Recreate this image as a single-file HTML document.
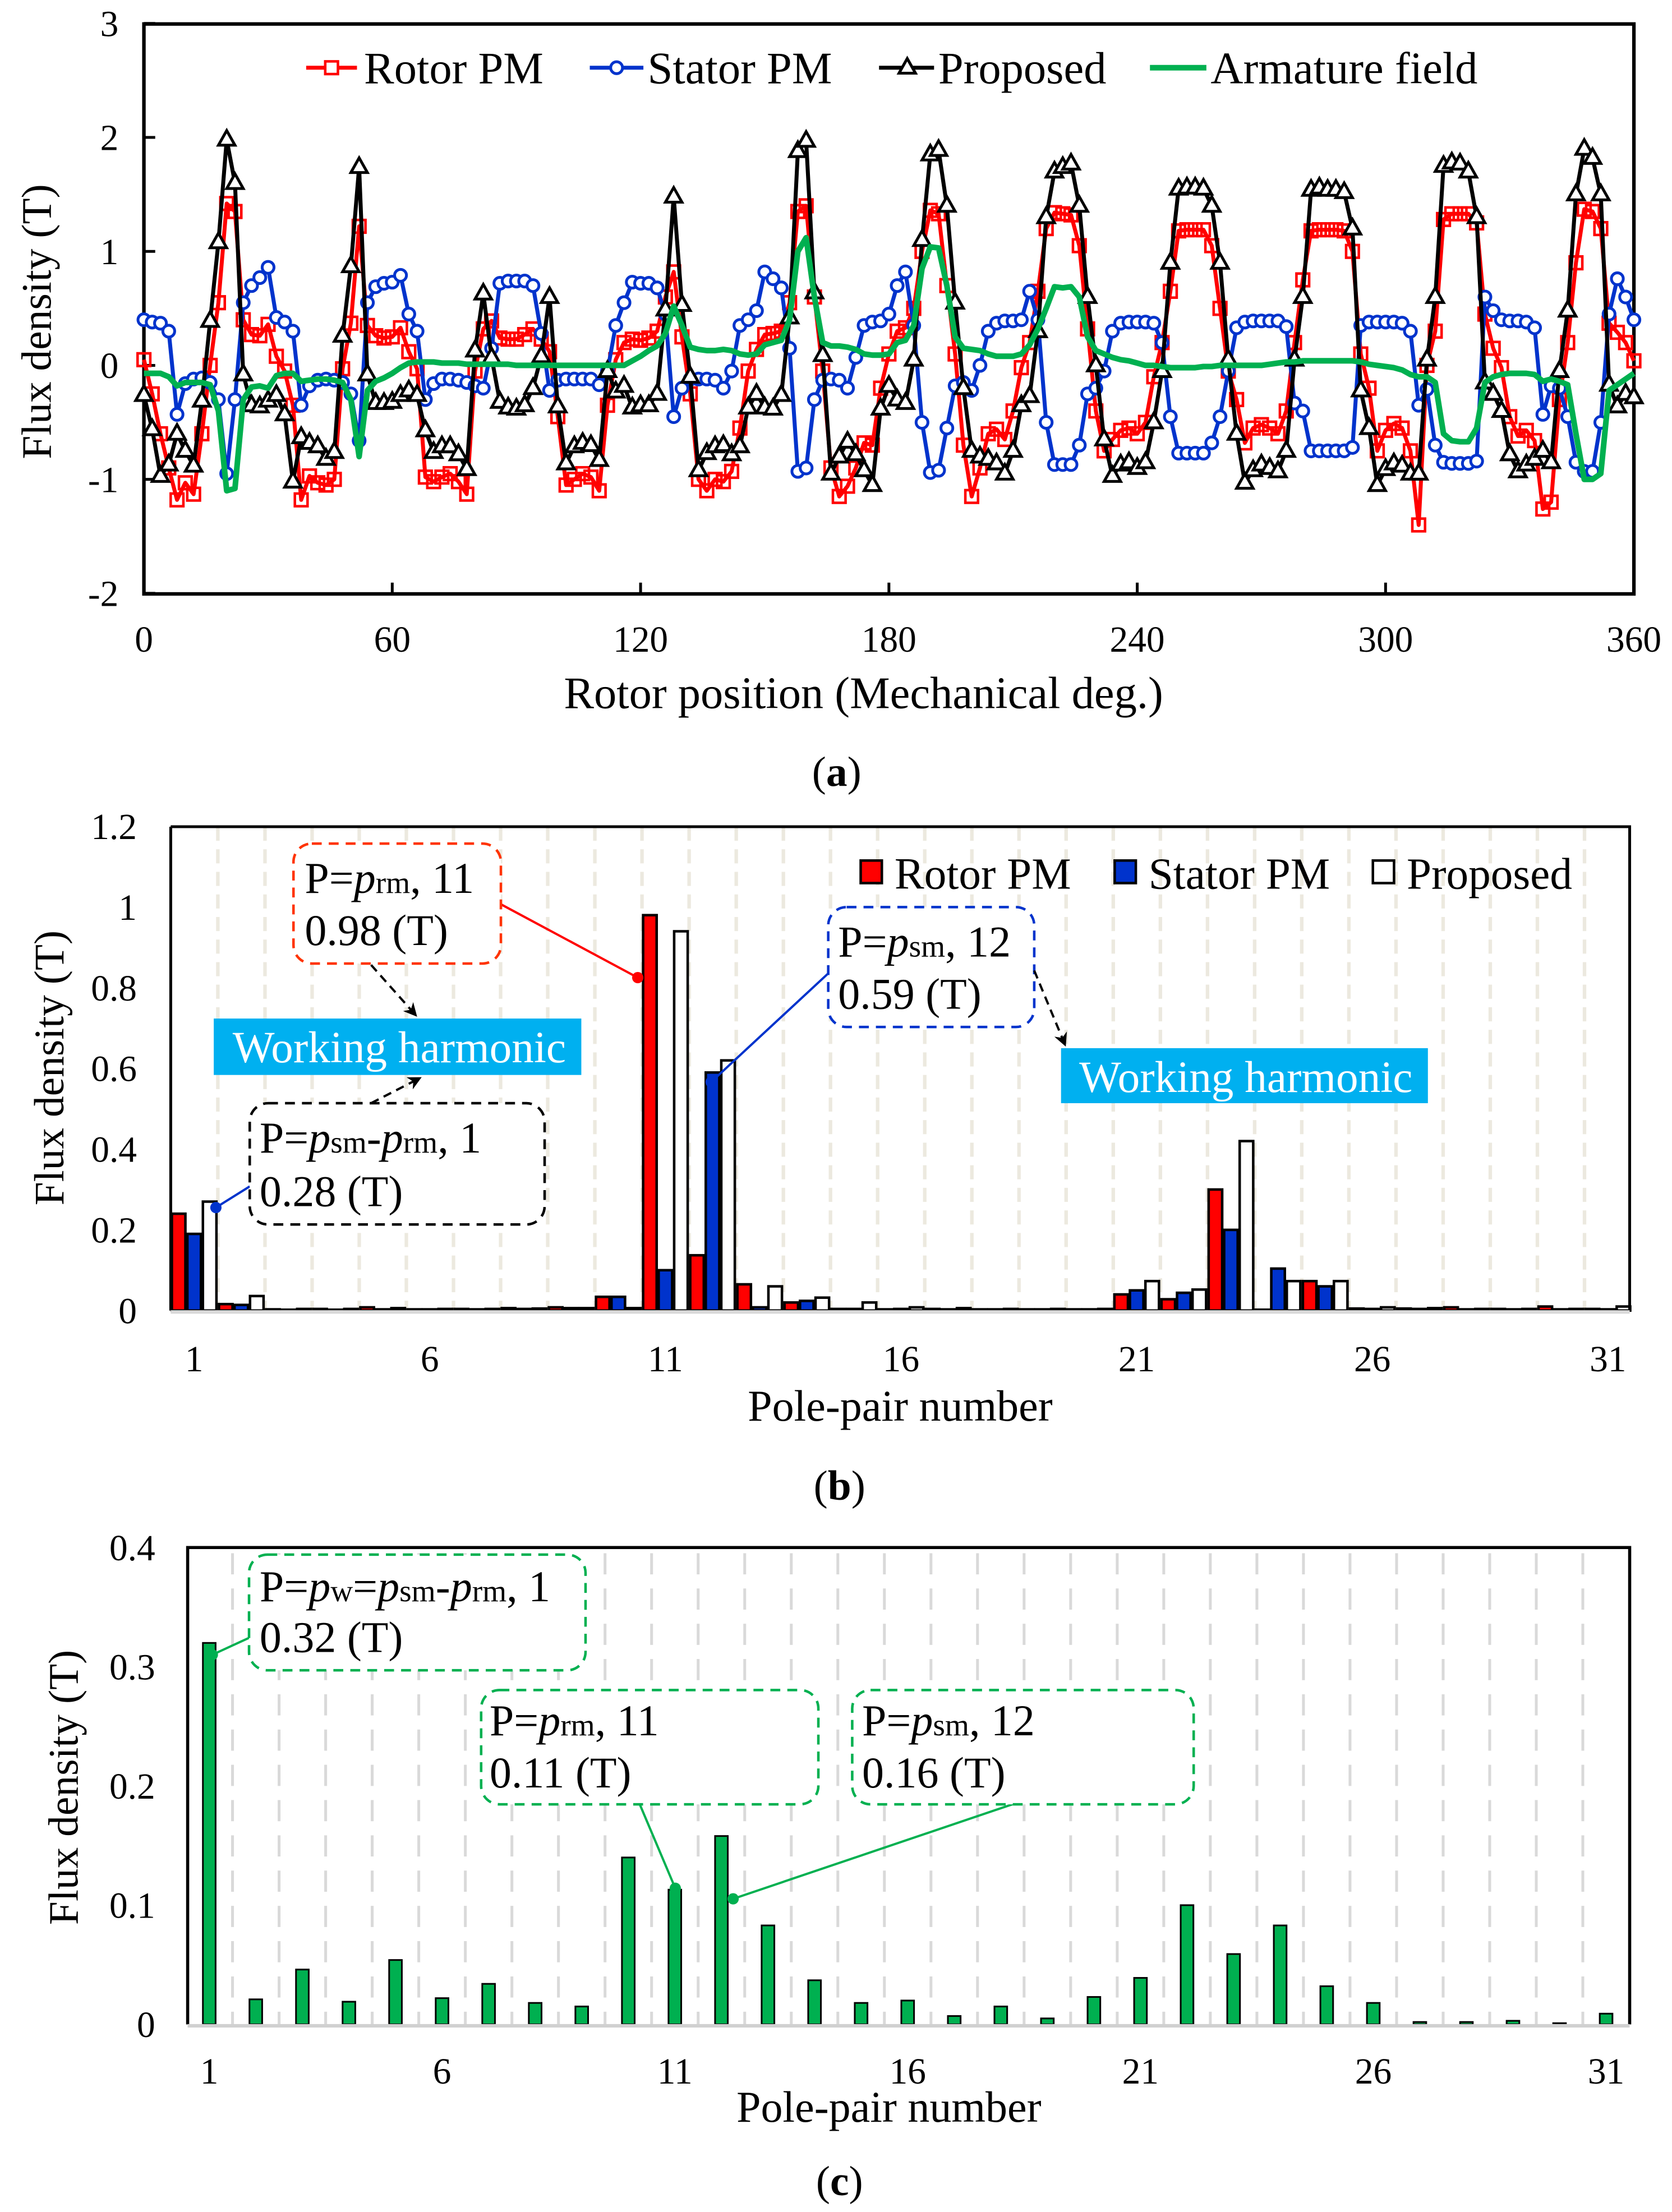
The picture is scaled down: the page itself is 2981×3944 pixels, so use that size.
<!DOCTYPE html>
<html><head><meta charset="utf-8"><style>
html,body{margin:0;padding:0;background:#fff;}
svg{display:block;}
text{font-family:"Liberation Serif","Times New Roman",serif;fill:#000;}
</style></head><body>
<svg id="fig" xmlns="http://www.w3.org/2000/svg" width="2981" height="3944" viewBox="0 0 1185 1568" preserveAspectRatio="none">
<rect x="0" y="0" width="1185" height="1568" fill="#fff"/>
<g id="pa"></g>
<g id="pb"></g>
<g id="pc"></g>
</svg>
<script>
// ---------- Panel (a) data: sampled every 2 mechanical degrees, 0..360 ----------
const degStep = 2;
const rotorPM = [0.05,-0.25,-0.6,-0.9,-1.18,-1.03,-1.13,-0.6,0.0,0.55,1.42,1.35,0.4,0.27,0.26,0.36,0.08,-0.05,-0.35,-1.18,-0.97,-1.03,-1.05,-1.0,-0.03,0.37,1.22,0.35,0.26,0.24,0.25,0.33,0.12,-0.03,-0.98,-1.02,-0.98,-0.95,-1.02,-1.13,-0.05,0.32,0.39,0.24,0.23,0.23,
0.27,0.32,0.23,0.12,-0.45,-1.05,-1.0,-0.95,-0.98,-1.1,-0.35,0.05,0.2,0.23,0.22,0.24,0.3,0.6,0.82,0.25,-0.25,-1.0,-1.1,-1.0,-1.02,-0.93,-0.55,-0.05,0.14,0.27,0.28,0.3,0.55,1.35,1.4,0.6,-0.05,-0.9,-1.15,-1.06,-0.9,-0.68,-0.7,-0.2,0.1,
0.3,0.33,0.5,1.0,1.36,1.33,0.7,0.1,-0.7,-1.15,-0.9,-0.6,-0.56,-0.65,-0.4,-0.02,0.2,0.65,1.2,1.34,1.33,1.32,1.05,0.32,-0.4,-0.75,-0.65,-0.57,-0.55,-0.6,-0.5,-0.1,0.2,0.65,1.18,1.19,1.19,1.19,1.05,0.5,-0.05,-0.3,-0.68,-0.55,
-0.52,-0.55,-0.6,-0.4,0.2,0.75,1.18,1.19,1.19,1.19,1.18,1.0,0.1,-0.2,-0.75,-0.57,-0.51,-0.55,-0.75,-1.4,0.0,0.3,1.28,1.33,1.33,1.33,1.25,0.45,0.15,-0.02,-0.45,-0.62,-0.57,-0.66,-1.26,-1.2,-0.3,0.2,0.9,1.37,1.35,1.2,0.37,0.29,0.2,0.04];
const statorPM = [0.4,0.38,0.37,0.3,-0.43,-0.16,-0.12,-0.11,-0.15,-0.3,-0.95,-0.3,0.55,0.7,0.77,0.86,0.42,0.38,0.3,-0.35,-0.18,-0.13,-0.12,-0.13,-0.15,-0.25,-0.66,0.55,0.69,0.72,0.73,0.79,0.45,0.3,-0.3,-0.16,-0.12,-0.12,-0.13,-0.15,-0.18,-0.2,0.15,0.72,0.74,0.74,
0.74,0.7,0.28,-0.22,-0.13,-0.12,-0.12,-0.12,-0.12,-0.17,-0.05,0.35,0.55,0.73,0.72,0.72,0.68,0.45,-0.45,-0.2,-0.12,-0.12,-0.12,-0.13,-0.2,-0.05,0.35,0.4,0.48,0.82,0.76,0.68,0.15,-0.93,-0.9,-0.3,-0.13,-0.12,-0.13,-0.2,0.07,0.35,0.38,0.39,0.45,
0.7,0.82,0.35,-0.5,-0.94,-0.92,-0.55,-0.18,-0.15,-0.22,0.0,0.3,0.37,0.39,0.39,0.4,0.65,0.4,-0.5,-0.87,-0.87,-0.87,-0.7,-0.25,-0.2,-0.05,0.3,0.37,0.38,0.38,0.38,0.37,0.2,-0.45,-0.77,-0.77,-0.77,-0.77,-0.68,-0.45,-0.05,0.33,0.38,0.39,
0.39,0.39,0.39,0.34,-0.33,-0.4,-0.75,-0.75,-0.75,-0.75,-0.75,-0.72,0.35,0.38,0.38,0.38,0.38,0.37,0.3,-0.35,-0.21,-0.7,-0.85,-0.86,-0.86,-0.86,-0.84,0.6,0.48,0.4,0.39,0.39,0.38,0.33,-0.43,-0.18,-0.2,-0.45,-0.85,-0.93,-0.93,-0.5,0.45,0.76,0.6,0.4];
const proposed = [-0.26,-0.56,-0.97,-0.87,-0.6,-0.75,-0.88,-0.31,0.39,1.08,1.98,1.6,-0.08,-0.35,-0.36,-0.31,-0.26,-0.43,-1.02,-0.63,-0.68,-0.71,-0.82,-0.76,0.26,0.87,1.74,-0.08,-0.33,-0.33,-0.32,-0.26,-0.22,-0.26,-0.57,-0.76,-0.71,-0.71,-0.78,-0.91,0.13,0.63,0.07,-0.32,-0.37,-0.38,
-0.35,-0.2,0.08,0.6,-0.36,-0.86,-0.71,-0.68,-0.7,-0.83,-0.05,-0.23,-0.18,-0.37,-0.35,-0.35,-0.25,0.49,1.48,0.53,-0.1,-0.92,-0.77,-0.71,-0.7,-0.78,-0.71,-0.37,-0.25,-0.37,-0.38,-0.26,0.42,1.88,1.97,0.64,0.09,-0.95,-0.8,-0.67,-0.78,-0.92,-1.05,-0.38,-0.18,
-0.3,-0.33,0.05,1.1,1.85,1.89,1.4,0.55,-0.2,-0.75,-0.8,-0.82,-0.86,-0.95,-0.75,-0.35,-0.27,0.3,1.3,1.7,1.74,1.77,1.4,0.6,0,-0.65,-0.97,-0.87,-0.85,-0.9,-0.85,-0.5,-0.05,0.9,1.55,1.56,1.56,1.55,1.4,0.9,0.05,-0.6,-1.03,-0.92,
-0.87,-0.9,-0.93,-0.75,0.05,0.6,1.54,1.56,1.54,1.54,1.52,1.2,-0.22,-0.55,-1.05,-0.91,-0.86,-0.88,-0.95,-0.95,0.05,0.6,1.75,1.78,1.77,1.7,1.3,-0.15,-0.25,-0.4,-0.78,-0.93,-0.87,-0.82,-0.75,-0.85,-0.05,0.48,1.5,1.9,1.82,1.5,-0.17,-0.36,-0.25,-0.28];
const armature = [-0.07,-0.07,-0.07,-0.1,-0.18,-0.15,-0.15,-0.15,-0.17,-0.4,-1.1,-1.08,-0.3,-0.19,-0.18,-0.2,-0.09,-0.07,-0.07,-0.14,-0.13,-0.12,-0.12,-0.13,-0.15,-0.3,-0.8,-0.22,-0.14,-0.11,-0.07,-0.02,0.02,0.03,0.03,0.03,0.02,0.02,0.02,0.01,0.01,0.01,0.01,0.01,0.01,0.0,
0,0,0,0,0,0,0,0,0,0,0,0,0,0.04,0.08,0.13,0.17,0.28,0.52,0.35,0.16,0.14,0.13,0.13,0.14,0.13,0.1,0.09,0.1,0.18,0.2,0.22,0.4,1.0,1.12,0.6,0.2,0.17,0.17,0.16,0.14,0.1,0.09,0.09,0.1,
0.2,0.22,0.35,0.85,1.04,1.03,0.7,0.25,0.15,0.14,0.13,0.1,0.08,0.08,0.08,0.1,0.18,0.32,0.5,0.69,0.68,0.69,0.6,0.25,0.13,0.1,0.07,0.05,0.04,0.02,0.0,0.0,-0.01,-0.02,-0.02,-0.02,-0.02,-0.01,-0.01,0.0,0.0,0.0,0.0,0.0,
0.0,0.01,0.02,0.03,0.03,0.04,0.04,0.04,0.04,0.04,0.04,0.04,0.03,0.01,0.0,-0.01,-0.02,-0.04,-0.08,-0.1,-0.1,-0.15,-0.6,-0.66,-0.67,-0.67,-0.55,-0.15,-0.1,-0.08,-0.07,-0.07,-0.07,-0.08,-0.14,-0.12,-0.14,-0.17,-0.6,-1.0,-1.0,-0.95,-0.22,-0.17,-0.12,-0.07];
const aYTicks = [3,2,1,0,-1,-2];
const aXTicks = [0,60,120,180,240,300,360];

// ---------- Panel (b) data: harmonic amplitudes, pole-pair 1..31 ----------
const bRotor = [0.24,0.016,0.003,0.004,0.008,0.003,0.004,0.006,0.008,0.034,0.98,0.137,0.065,0.02,0.004,0.003,0.004,0.003,0.003,0.003,0.04,0.028,0.30,0.0,0.073,0.005,0.005,0.008,0.004,0.01,0.004];
const bStator = [0.19,0.014,0.002,0.002,0.003,0.003,0.003,0.004,0.006,0.034,0.1,0.59,0.008,0.024,0.004,0.004,0.003,0.003,0.003,0.003,0.05,0.044,0.2,0.104,0.06,0.004,0.004,0.003,0.003,0.003,0.003];
const bProposed = [0.27,0.036,0.004,0.004,0.006,0.004,0.004,0.005,0.006,0.006,0.94,0.62,0.06,0.032,0.02,0.008,0.006,0.004,0.004,0.004,0.073,0.052,0.42,0.073,0.073,0.008,0.006,0.004,0.004,0.004,0.01];
const bYTicks = ["1.2","1","0.8","0.6","0.4","0.2","0"];
const bXTicks = [1,6,11,16,21,26,31];

// ---------- Panel (c) data: armature field harmonics ----------
const cArm = [0.32,0.021,0.046,0.019,0.054,0.022,0.034,0.018,0.015,0.14,0.113,0.158,0.083,0.037,0.018,0.02,0.007,0.015,0.005,0.023,0.039,0.1,0.059,0.083,0.032,0.018,0.002,0.002,0.003,0.001,0.009];
const cYTicks = ["0.4","0.3","0.2","0.1","0"];
const cXTicks = [1,6,11,16,21,26,31];

const NS = "http://www.w3.org/2000/svg";
function mk(parent, tag, attrs, txt){
  const e = document.createElementNS(NS, tag);
  for (const k in attrs) e.setAttribute(k, attrs[k]);
  if (txt !== undefined) e.textContent = txt;
  parent.appendChild(e);
  return e;
}
const pa = document.getElementById('pa');
const pb = document.getElementById('pb');
const pc = document.getElementById('pc');

// ===== Panel (a) =====
const aL=102, aR=1158, aT=17, aB=421;
function xA(d){ return aL + d*(aR-aL)/360; }
function yA(v){ return 259 - v*80.8; }

let el;
el = mk(pa,'rect',{x:aL,y:aT,width:aR-aL,height:aB-aT,fill:'none',stroke:'#000','stroke-width':2.5});


aYTicks.forEach(v=>{
  const t = mk(pa,'line',{x1:aL,x2:aL+8,y1:yA(v),y2:yA(v),stroke:'#000','stroke-width':2});
  
  
  const l = mk(pa,'text',{x:84,y:yA(v)+9,'text-anchor':'end','font-size':26}, String(v));
  
  
});
aXTicks.forEach(d=>{
  const t = mk(pa,'line',{x1:xA(d),x2:xA(d),y1:aB,y2:aB-8,stroke:'#000','stroke-width':2});
  
  
  const l = mk(pa,'text',{x:xA(d),y:462,'text-anchor':'middle','font-size':26}, String(d));
  
  
});
el = mk(pa,'text',{x:612,y:502,'text-anchor':'middle','font-size':32},'Rotor position (Mechanical deg.)');


el = mk(pa,'text',{x:0,y:0,'text-anchor':'middle','font-size':30,transform:'translate(36,228) rotate(-90)'},'Flux density (T)');


el = mk(pa,'text',{x:593,y:557,'text-anchor':'middle','font-size':30},'');
el.innerHTML = '(<tspan font-weight="bold">a</tspan>)';



function pathFrom(arr){
  return arr.map((v,i)=>(i?'L':'M')+xA(i*degStep).toFixed(2)+' '+yA(v).toFixed(2)).join(' ');
}
function triPts(x,y,s){ return (x)+','+(y-s)+' '+(x-s*0.9)+','+(y+s*0.6)+' '+(x+s*0.9)+','+(y+s*0.6); }

const gRed = mk(pa,'g',{});


const gBlue = mk(pa,'g',{});


const gBlack = mk(pa,'g',{});


const gGreen = mk(pa,'g',{});



el = mk(gRed,'path',{d:pathFrom(rotorPM),fill:'none',stroke:'#ff0000','stroke-width':2.8,'stroke-linejoin':'round'});


rotorPM.forEach((v,i)=>{
  const m = mk(gRed,'rect',{x:xA(i*degStep)-4.5,y:yA(v)-4.5,width:9,height:9,fill:'none',stroke:'#ff0000','stroke-width':1.8});
  
  
});
el = mk(gBlue,'path',{d:pathFrom(statorPM),fill:'none',stroke:'#0033cc','stroke-width':2.8,'stroke-linejoin':'round'});


statorPM.forEach((v,i)=>{
  const m = mk(gBlue,'circle',{cx:xA(i*degStep),cy:yA(v),r:4.2,fill:'#fff',stroke:'#0033cc','stroke-width':2});
  
  
});
el = mk(gBlack,'path',{d:pathFrom(proposed),fill:'none',stroke:'#000','stroke-width':2.8,'stroke-linejoin':'round'});


proposed.forEach((v,i)=>{
  const m = mk(gBlack,'polygon',{points:triPts(xA(i*degStep),yA(v),6.5),fill:'#fff',stroke:'#000','stroke-width':2});
  
  
});
el = mk(gGreen,'path',{d:pathFrom(armature),fill:'none',stroke:'#00b050','stroke-width':4,'stroke-linejoin':'round'});



// legend (a)
const gLegA = mk(pa,'g',{});


el = mk(gLegA,'line',{x1:217,x2:253,y1:48,y2:48,stroke:'#ff0000','stroke-width':2.8});


el = mk(gLegA,'rect',{x:230.5,y:43.5,width:9,height:9,fill:'#fff',stroke:'#ff0000','stroke-width':1.8});


el = mk(gLegA,'text',{x:258,y:59,'font-size':32},'Rotor PM');


el = mk(gLegA,'line',{x1:418,x2:456,y1:48,y2:48,stroke:'#0033cc','stroke-width':2.8});


el = mk(gLegA,'circle',{cx:437,cy:48,r:4.2,fill:'#fff',stroke:'#0033cc','stroke-width':2});


el = mk(gLegA,'text',{x:459,y:59,'font-size':32},'Stator PM');


el = mk(gLegA,'line',{x1:623,x2:662,y1:48,y2:48,stroke:'#000','stroke-width':2.8});


el = mk(gLegA,'polygon',{points:triPts(643,48,6.5),fill:'#fff',stroke:'#000','stroke-width':2});


el = mk(gLegA,'text',{x:665,y:59,'font-size':32},'Proposed');


el = mk(gLegA,'line',{x1:815,x2:855,y1:48,y2:48,stroke:'#00b050','stroke-width':4});


el = mk(gLegA,'text',{x:858,y:59,'font-size':32},'Armature field');



// ===== Panel (b) =====
const bL=121, bR=1155, bT=586, bB=929, bGW=33.4;
function xB(n,k){ return bL + 0.8 + (n-1)*bGW + k*11; }
function yB(v){ return bB - v*286; }

for (let n=1;n<=30;n++){
  const gx = bL + n*bGW;
  const g = mk(pb,'line',{x1:gx,x2:gx,y1:bT,y2:bB,stroke:'#ece9df','stroke-width':2.5,'stroke-dasharray':'10 6'});
  
  
}
const seriesB = [[bRotor,'#ff0000','bar-rotor-pm'],[bStator,'#0033cc','bar-stator-pm'],[bProposed,'#ffffff','bar-proposed']];
seriesB.forEach((s,k)=>{
  s[0].forEach((v,i)=>{
    const h = Math.max(v*286,0.6);
    const b = mk(pb,'rect',{x:xB(i+1,k),y:bB-h,width:9.6,height:h,fill:s[1],stroke:'#000','stroke-width':1.8});
    
    
  });
});
el = mk(pb,'path',{d:`M${bL} ${bT} H${bR} V${bB}`,fill:'none',stroke:'#000','stroke-width':2});


el = mk(pb,'line',{x1:bL,x2:bL,y1:bT,y2:bB,stroke:'#000','stroke-width':2});


el = mk(pb,'line',{x1:bL,x2:bR,y1:bB+1,y2:bB+1,stroke:'#d9d9d9','stroke-width':2.5});


bYTicks.forEach(t=>{
  const l = mk(pb,'text',{x:97,y:yB(parseFloat(t))+9,'text-anchor':'end','font-size':26},t);
  
  
});
bXTicks.forEach(n=>{
  const l = mk(pb,'text',{x:xB(n,1)+4.8,y:972,'text-anchor':'middle','font-size':26},String(n));
  
  
});
el = mk(pb,'text',{x:638,y:1007,'text-anchor':'middle','font-size':31},'Pole-pair number');


el = mk(pb,'text',{x:0,y:0,'text-anchor':'middle','font-size':30,transform:'translate(45,757) rotate(-90)'},'Flux density (T)');


el = mk(pb,'text',{x:595,y:1063,'text-anchor':'middle','font-size':30},'');
el.innerHTML = '(<tspan font-weight="bold">b</tspan>)';



// legend (b)
el = mk(pb,'rect',{x:610,y:610,width:15,height:16,fill:'#ff0000',stroke:'#000','stroke-width':1.8});


el = mk(pb,'text',{x:634,y:630,'font-size':31.5},'Rotor PM');


el = mk(pb,'rect',{x:790,y:610,width:15,height:16,fill:'#0033cc',stroke:'#000','stroke-width':1.8});


el = mk(pb,'text',{x:814,y:630,'font-size':31.5},'Stator PM');


el = mk(pb,'rect',{x:973,y:610,width:15,height:16,fill:'#fff',stroke:'#000','stroke-width':1.8});


el = mk(pb,'text',{x:997,y:630,'font-size':31.5},'Proposed');



const defs = mk(document.getElementById('fig'),'defs',{});
defs.innerHTML = '<marker id="ah" viewBox="0 0 10 10" refX="9" refY="5" markerWidth="6" markerHeight="8" orient="auto"><path d="M0 0 L10 5 L0 10 L3 5 Z" fill="#000"/></marker>';

function annoBox(parent,name,x,y,w,h,color){
  const r = mk(parent,'rect',{x:x,y:y,width:w,height:h,rx:13,ry:13,fill:'#fff',stroke:color,'stroke-width':1.8,'stroke-dasharray':'7 5'});
  
  
}
function annoText(parent,name,x,y,html){
  const t = mk(parent,'text',{x:x,y:y,'font-size':31},'');
  t.innerHTML = html;
  
  
}
function connector(parent,name,x1,y1,x2,y2,color){
  const l = mk(parent,'line',{x1:x1,y1:y1,x2:x2,y2:y2,stroke:color,'stroke-width':1.6});
  
  
  const d = mk(parent,'circle',{cx:x2,cy:y2,r:4,fill:color});
  
  
}
function dashArrow(parent,name,x1,y1,x2,y2){
  const l = mk(parent,'line',{x1:x1,y1:y1,x2:x2,y2:y2,stroke:'#000','stroke-width':1.6,'stroke-dasharray':'6 4','marker-end':'url(#ah)'});
  
  
}
const P = (sub)=>'<tspan font-style="italic">p</tspan><tspan font-size="22">'+sub+'</tspan>';

// annotations (b)
connector(pb,'callout-line-rotor-11',355,641,452,693,'#ff0000');
annoBox(pb,'callout-box-rotor-11',208,598,147,85,'#ff3300');
annoText(pb,'callout-text-rotor-11-line1',216,633,'P='+P('rm')+', 11');
annoText(pb,'callout-text-rotor-11-line2',216,670,'0.98 (T)');
connector(pb,'callout-line-stator-12',587,690,504,767,'#0033cc');
annoBox(pb,'callout-box-stator-12',587,643,146,85,'#0033cc');
annoText(pb,'callout-text-stator-12-line1',594,678,'P='+P('sm')+', 12');
annoText(pb,'callout-text-stator-12-line2',594,715,'0.59 (T)');
connector(pb,'callout-line-proposed-1',177,841,153,856,'#0033cc');
annoBox(pb,'callout-box-proposed-1',177,782,209,86,'#000');
annoText(pb,'callout-text-proposed-1-line1',184,817,'P='+P('sm')+'-'+P('rm')+', 1');
annoText(pb,'callout-text-proposed-1-line2',184,855,'0.28 (T)');
el = mk(pb,'rect',{x:151.5,y:722,width:260.5,height:40,fill:'#00b0f0'});


el = mk(pb,'text',{x:283,y:753,'text-anchor':'middle','font-size':31.5,style:'fill:#fff'},'Working harmonic');


el = mk(pb,'rect',{x:752,y:743,width:260,height:39,fill:'#00b0f0'});


el = mk(pb,'text',{x:883,y:774,'text-anchor':'middle','font-size':31.5,style:'fill:#fff'},'Working harmonic');


dashArrow(pb,'arrow-rotor-to-working',263,684,295,720);
dashArrow(pb,'arrow-proposed-to-working',263,782,298,764);
dashArrow(pb,'arrow-stator-to-working',733,688,755,741);

// ===== Panel (c) =====
const cL=133, cR=1155, cT=1097, cB=1435, cStep=33.0;
function xC(n){ return 148.3 + (n-1)*cStep; }
function yC(v){ return cB - v*845; }
for (let n=1;n<=30;n++){
  const gx = xC(n)+cStep/2;
  const g = mk(pc,'line',{x1:gx,x2:gx,y1:cT+4,y2:cB,stroke:'#d9d9d9','stroke-width':2,'stroke-dasharray':'15 10'});
  
  
}
cArm.forEach((v,i)=>{
  const h = Math.max(v*845,0.8);
  const b = mk(pc,'rect',{x:xC(i+1)-4.5,y:cB-h,width:9,height:h,fill:'#00b050',stroke:'#000','stroke-width':1.2});
  
  
});
el = mk(pc,'path',{d:`M${cL} ${cB} V${cT} H${cR} V${cB}`,fill:'none',stroke:'#000','stroke-width':2.2});


el = mk(pc,'line',{x1:cL,x2:cR,y1:cB+1,y2:cB+1,stroke:'#d0d0d0','stroke-width':2.5});


cYTicks.forEach(t=>{
  const l = mk(pc,'text',{x:110,y:yC(parseFloat(t))+9,'text-anchor':'end','font-size':26},t);
  
  
});
cXTicks.forEach(n=>{
  const l = mk(pc,'text',{x:xC(n),y:1477,'text-anchor':'middle','font-size':26},String(n));
  
  
});
el = mk(pc,'text',{x:630,y:1504,'text-anchor':'middle','font-size':31},'Pole-pair number');


el = mk(pc,'text',{x:0,y:0,'text-anchor':'middle','font-size':30,transform:'translate(55,1267) rotate(-90)'},'Flux density (T)');


el = mk(pc,'text',{x:595,y:1556,'text-anchor':'middle','font-size':30},'');
el.innerHTML = '(<tspan font-weight="bold">c</tspan>)';



connector(pc,'callout-line-c-1',176.5,1161,150.5,1173,'#00b050');
annoBox(pc,'callout-box-c-1',176.5,1102,238.5,82,'#00b050');
annoText(pc,'callout-text-c-1-line1',184,1135,'P='+P('w')+'='+P('sm')+'-'+P('rm')+', 1');
annoText(pc,'callout-text-c-1-line2',184,1171,'0.32 (T)');
connector(pc,'callout-line-c-11',453,1278,478.6,1338.5,'#00b050');
annoBox(pc,'callout-box-c-11',341,1198,239,81,'#00b050');
annoText(pc,'callout-text-c-11-line1',347,1230,'P='+P('rm')+', 11');
annoText(pc,'callout-text-c-11-line2',347,1267,'0.11 (T)');
connector(pc,'callout-line-c-12',720.5,1278,519.6,1346,'#00b050');
annoBox(pc,'callout-box-c-12',604,1198,242,81,'#00b050');
annoText(pc,'callout-text-c-12-line1',611,1230,'P='+P('sm')+', 12');
annoText(pc,'callout-text-c-12-line2',611,1267,'0.16 (T)');
</script>
</body></html>
